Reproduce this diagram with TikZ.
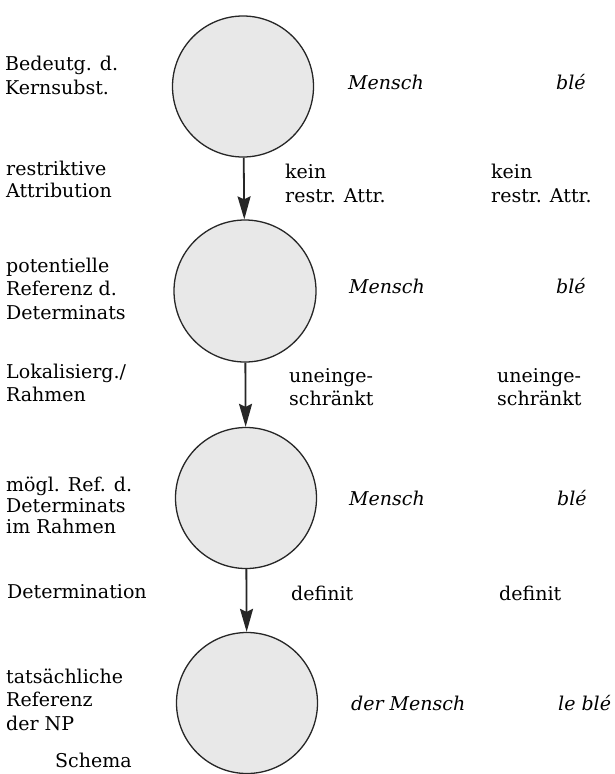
\documentclass[tikz,border=0pt]{standalone}
\usepackage{fontspec}
\setmainfont{DejaVu Serif}
\usetikzlibrary{arrows.meta}

% left-aligned stack of lines; baseline = first line, custom line spacing
\newcommand{\linesat}[2]{{\fontsize{19}{#1}\selectfont
  \begin{tabular}[t]{@{}l@{}}#2\end{tabular}}}

\begin{document}
\begin{tikzpicture}[x=1pt,y=-1pt,
  lbl/.style={anchor=base west,inner sep=0pt,font=\fontsize{19}{23}\selectfont},
  word/.style={lbl,font=\fontsize{19}{23}\selectfont\itshape},
  globe/.style={circle,draw=black!85,line width=1.3pt,fill=black!9,
    inner sep=0pt,minimum size=#1},
  flow/.style={draw=black!85,line width=1.8pt,
    -{Stealth[length=23pt,width=13pt,inset=3pt]}}]
\useasboundingbox (0,0) rectangle (614,774);

% the four stages
\node[globe=141pt] (c1) at (243,86.5) {};
\node[globe=142pt] (c2) at (245,291) {};
\node[globe=141pt] (c3) at (246,498) {};
\node[globe=141pt] (c4) at (247,703) {};

\draw[flow] (c1) -- (c2);
\draw[flow] (c2) -- (c3);
\draw[flow] (c3) -- (c4);

% left column
\node[lbl] (l1) at (5,70)  {\linesat{24}{Bedeutg. d.\\Kernsubst.}};
\node[lbl] (l2) at (6,175) {\linesat{22}{restriktive\\Attribution}};
\node[lbl] (l3) at (6,272) {\linesat{23.5}{potentielle\\Referenz d.\\Determinats}};
\node[lbl] (l4) at (6,378) {\linesat{23}{Lokalisierg./\\Rahmen}};
\node[lbl] (l5) at (6,491) {\linesat{21}{mögl. Ref. d.\\Determinats\\im Rahmen}};
\node[lbl] (l6) at (7,598) {Determination};
\node[lbl] (l7) at (6,683) {\linesat{23.5}{tatsächliche\\Referenz\\der NP}};
\node[lbl] (l8) at (55,767) {Schema};

% German example
\node[word] (m1) at (348,89)  {Mensch};
\node[lbl]  (m2) at (285,178) {\linesat{24}{kein\\restr. Attr.}};
\node[word] (m3) at (349,293) {Mensch};
\node[lbl]  (m4) at (289,382) {\linesat{23}{uneinge-\\schränkt}};
\node[word] (m5) at (349,505) {Mensch};
\node[lbl]  (m6) at (291,600) {definit};
\node[word] (m7) at (351,710) {der Mensch};

% French example
\node[word] (f1) at (556,89)  {blé};
\node[lbl]  (f2) at (491,178) {\linesat{24}{kein\\restr. Attr.}};
\node[word] (f3) at (556,293) {blé};
\node[lbl]  (f4) at (497,382) {\linesat{23}{uneinge-\\schränkt}};
\node[word] (f5) at (557,505) {blé};
\node[lbl]  (f6) at (499,600) {definit};
\node[word] (f7) at (558,710) {le blé};
\end{tikzpicture}
\end{document}
